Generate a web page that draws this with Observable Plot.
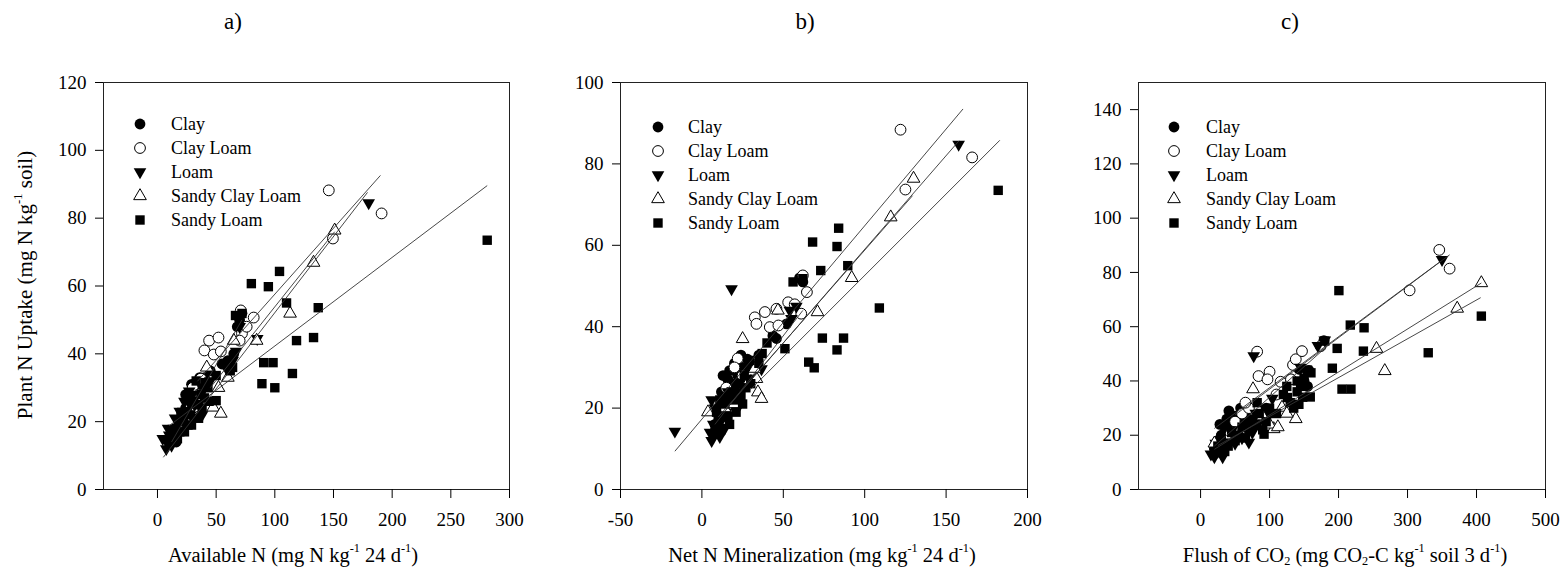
<!DOCTYPE html>
<html>
<head>
<meta charset="utf-8">
<script src="https://cdn.jsdelivr.net/npm/d3@7"></script>
<script src="https://cdn.jsdelivr.net/npm/@observablehq/plot@0.6"></script>
<style>
  body { margin: 0; background: #fff; }
  #wrap { position: relative; width: 1562px; height: 575px; overflow: hidden; background: #fff;
          font-family: "Liberation Serif", "Times New Roman", serif; color: #000; }
  .abs { position: absolute; white-space: nowrap; }
  .ptitle { font-size: 23px; transform: translate(-50%, -50%); }
  .xlab { font-size: 20.5px; transform: translate(-50%, -50%); }
  .ylab { font-size: 21px; transform: translate(-50%, -50%) rotate(-90deg); }
  sup, sub { font-size: 0.6em; line-height: 0; }
  sup { vertical-align: 0.75em; }
  sub { vertical-align: -0.3em; }
  .legrow { font-size: 18px; transform: translateY(-50%); }
</style>
</head>
<body>
<div id="wrap"></div>
<script>
// ---------- categories ----------
const soils = ["Clay", "Clay Loam", "Loam", "Sandy Clay Loam", "Sandy Loam"];
const panelTitles = ["a)", "b)", "c)"];

// ---------- tick labels ----------
const yTicksA = [0, 20, 40, 60, 80, 100, 120];
const yTicksB = [0, 20, 40, 60, 80, 100];
const yTicksC = [0, 20, 40, 60, 80, 100, 120, 140];
const xTicksA = [0, 50, 100, 150, 200, 250, 300];
const xTicksB = [-50, 0, 50, 100, 150, 200];
const xTicksC = [0, 100, 200, 300, 400, 500];

// ---------- panel a: Available N vs Plant N uptake ----------
const clayA = [[12,15],[15,17],[18,19],[20,21],[22,22],[24,24],[26,25],[28,26],[30,27],[32,28],[25,20],[30,23],[35,26],[34,30],[38,31],[40,33],[45,35],[60,38],[65,40],[70,50],[72,52],[68,48],[55,37],[20,18],[16,14],[24,28],[29,31],[36,33]];
const clayLoamA = [[146,88.2],[191,81.4],[149.5,74],[40,41],[44,43.9],[52,44.8],[48,39.8],[54,40.7],[71,52.8],[82,50.7],[72,46],[70,43.9],[37,32.7],[30,30],[28,25],[35,28],[25,22],[33,24],[76,48]];
const loamA = [[180,84.5],[85,44.5],[67,40.7],[7.5,12],[4.5,15],[8,14],[10,16],[12,15],[14,18],[16,17],[18,20],[20,19],[22,23],[25,22],[28,25],[30,24],[33,28],[36,27],[40,30],[45,32],[60,35],[64,38],[70,48],[26,27],[12,13],[9,18],[15,21],[19,23],[23,26],[27,29],[31,21],[38,22]];
const sclA = [[151,76.4],[133,66.9],[113,51.9],[84.5,43.9],[65,43.9],[52,30],[47.5,24.2],[54,22.4],[42,36],[30,22],[25,20],[20,17],[35,27],[15,15],[60,33]];
const slA = [[281,73.5],[80,60.7],[104,64.3],[94.5,59.8],[110,55],[137,53.6],[118.5,43.9],[133,44.8],[90.5,37.4],[98.5,37.4],[115,34.2],[89,31.2],[100,30],[66.5,51.3],[72,51.9],[50,33.6],[50,26.2],[41,31.5],[62,35],[58,37],[10,14],[13,16],[16,18],[19,17],[22,20],[25,23],[28,22],[31,26],[34,25],[37,28],[40,27],[43,30],[20,22],[26,19],[35,21],[38,24],[17,15],[23,17],[29,19],[33,32],[44,26],[64,36]];
// fitted lines: soil, x1, y1, x2, y2
const fitA = [["Clay",12,14,72,50],["Clay Loam",34,31.9,190,92.6],["Loam",5,9.5,179,87.6],["Sandy Clay Loam",45,30,151,76],["Sandy Loam",10,18.8,281,89.6]];

// ---------- panel b: Net N mineralization ----------
const clayB = [[52,40.7],[43.6,37.8],[45.8,37.1],[17,29.2],[10,20],[12,24],[15,22],[18,26],[20,25],[22,28],[25,30],[14,18],[8,16],[28,32],[30,27],[60,52],[62,51],[35,33],[20,31],[16,27],[13,28],[24,33]];
const clayLoamB = [[122,88.4],[166,81.6],[125,73.7],[32.5,42.3],[38.7,43.6],[45.8,44.4],[33.5,40.7],[41.7,39.9],[47,40.3],[53,46],[61,43.2],[64.5,48.5],[62,52.6],[22,32.2],[20,30],[15,25],[25,28],[57,45.5]];
const loamB = [[157.7,84.8],[18.2,49.3],[-16.6,14.3],[54,44],[36.6,29.6],[6,12],[5,14],[7,16],[9,15],[10,18],[12,17],[13,20],[15,19],[17,22],[19,21],[21,24],[24,26],[8,20],[6,22],[28,30],[55,42],[58,45],[11,13],[14,15],[16,24],[22,20]];
const sclB = [[130,76.4],[116,66.9],[92,52],[71,43.6],[25,37],[46.7,44],[3.7,19],[34.4,23.9],[36.6,22.3],[33.5,27.2],[32.5,29.7],[20,21],[14,20],[28,26]];
const slB = [[182,73.5],[68,60.8],[84,64.2],[83,59.7],[89.6,55],[73,53.8],[109,44.6],[74,37.2],[87,37.2],[83,34.3],[65.6,31.3],[69,29.9],[51,34.6],[56,51],[62,51.8],[37,33.4],[29.5,31.7],[8,14],[10,17],[12,15],[14,21],[16,18],[18,24],[20,22],[22,26],[24,23],[26,28],[27,25],[30,26],[11,22],[35,31],[21,19],[9,19],[17,16],[25,21],[40,36]];
const fitB = [["Clay",8,16,62,44],["Clay Loam",15,19.9,158,85.7],["Loam",-16.6,9.4,160.4,93.5],["Sandy Clay Loam",10,17.8,129.4,72.2],["Sandy Loam",30,24.6,183,85.8]];

// ---------- panel c: Flush of CO2 ----------
const clayC = [[41,29],[178.7,54.9],[157,43.9],[20,15],[25,18],[30,20],[35,23],[40,22],[45,25],[50,27],[55,24],[60,26],[65,28],[70,25],[28,24],[33,17],[48,19],[150,40],[155,38],[142.5,44.3],[95,30],[100,28],[38,26],[58,30]];
const clayLoamC = [[346,88.3],[361,81.4],[303,73.4],[82,50.8],[84,41.8],[100,43.4],[97,40.6],[116,39.7],[131,40.6],[134,45.9],[138,48],[147,51],[174,52.8],[60,28],[70,30],[50,25],[65,32],[110,35]];
const loamC = [[350,84.7],[77,49.2],[104,33.6],[70,17.4],[15,13],[20,12],[25,14],[30,16],[35,15],[40,18],[45,20],[55,22],[60,19],[65,24],[75,21],[85,25],[90,27],[50,17],[180,55],[170,53],[145,45],[22,17],[32,12],[80,28]];
const sclC = [[407,76.1],[372,66.7],[255,51.9],[267,43.7],[76,37],[138,26],[118,30.2],[106,22.3],[20,17],[40,20],[55,21],[90,27],[100,24],[112,23],[125,28]];
const slC = [[407,63.9],[330,50.4],[200.5,73.3],[217,60.6],[237,59.6],[236,51],[198,52],[180,54.7],[191,44.7],[205,37],[218,37],[159,34.1],[142.5,31.4],[126,33.9],[92,20.4],[25,16],[30,19],[35,14],[40,16],[45,21],[50,18],[55,20],[60,23],[65,19],[70,22],[75,26],[80,24],[85,28],[90,22],[95,25],[100,30],[110,28],[130,32],[140,36],[145,38],[135,30],[155,44],[160,43],[82,32],[120,35],[150,41],[125,38],[140,40],[148,34]];
const fitC = [["Clay",20,16,180,52],["Clay Loam",50,27.5,361,86.5],["Loam",20,22.5,348,84.1],["Sandy Clay Loam",20,14.8,407,76.1],["Sandy Loam",25,16.2,406,70.7]];

// ---------- symbols ----------
const triangleDown = {
  draw(ctx, size) {
    const y = Math.sqrt(size / (Math.sqrt(3) * 3));
    ctx.moveTo(0, 2 * y);
    ctx.lineTo(-Math.sqrt(3) * y, -y);
    ctx.lineTo(Math.sqrt(3) * y, -y);
    ctx.closePath();
  }
};
const styleBySoil = [
  {symbol: "circle", fill: "black", stroke: "none", r: 5.4},
  {symbol: "circle", fill: "white", stroke: "black", r: 5.4},
  {symbol: triangleDown, fill: "black", stroke: "none", r: 4.7},
  {symbol: "triangle", fill: "white", stroke: "black", r: 4.7},
  {symbol: "square", fill: "black", stroke: "none", r: 5.3}
];

const xLabels = [
  'Available N (mg N kg<sup>-1</sup> 24 d<sup>-1</sup>)',
  'Net N Mineralization (mg kg<sup>-1</sup> 24 d<sup>-1</sup>)',
  'Flush of CO<sub>2</sub> (mg CO<sub>2</sub>-C kg<sup>-1</sup> soil 3 d<sup>-1</sup>)'
];
const yLabel = 'Plant N Uptake (mg N kg<sup>-1</sup> soil)';

const panels = [
  {series: [clayA, clayLoamA, loamA, sclA, slA], fits: fitA, xdom: [-46, 300], ydom: [0, 120], xt: xTicksA, yt: yTicksA,
   frameL: 103, frameR: 509, titleX: 233, xlabX: 293, legSymX: 140, legTxtX: 171, legY: 124},
  {series: [clayB, clayLoamB, loamB, sclB, slB], fits: fitB, xdom: [-50, 200], ydom: [0, 100], xt: xTicksB, yt: yTicksB,
   frameL: 620, frameR: 1027, titleX: 805, xlabX: 822, legSymX: 658, legTxtX: 688, legY: 127},
  {series: [clayC, clayLoamC, loamC, sclC, slC], fits: fitC, xdom: [-90, 500], ydom: [0, 150], xt: xTicksC, yt: yTicksC,
   frameL: 1138, frameR: 1545, titleX: 1290, xlabX: 1345, legSymX: 1174, legTxtX: 1206, legY: 127}
];

const wrap = document.getElementById("wrap");
const TOP = 40, MT = 42, MB = 86, ML = 100, MR = 15, PH = 407;

function addDiv(cls, html, x, y) {
  const d = document.createElement("div");
  d.className = "abs " + cls;
  d.innerHTML = html;
  d.style.left = x + "px";
  d.style.top = y + "px";
  wrap.appendChild(d);
  return d;
}

panels.forEach((p, pi) => {
  const width = (p.frameR - p.frameL) + ML + MR;
  const height = MT + PH + MB;
  const marks = [Plot.frame({stroke: "#222", strokeWidth: 1})];
  p.series.forEach((pts, si) => {
    const s = styleBySoil[si];
    marks.push(Plot.dot(pts, {
      x: d => d[0], y: d => d[1], symbol: s.symbol, r: s.r,
      fill: s.fill, stroke: s.stroke, strokeWidth: 1
    }));
  });
  marks.push(Plot.link(p.fits, {
    x1: d => d[1], y1: d => d[2], x2: d => d[3], y2: d => d[4],
    stroke: "#333", strokeWidth: 0.9
  }));
  marks.push(Plot.axisX(p.xt, {anchor: "bottom", tickSize: 9, tickPadding: 14, label: null, fontSize: 19, stroke: "#000", tickFormat: d => String(d)}));
  marks.push(Plot.axisY(p.yt, {anchor: "left", tickSize: 8, tickPadding: 9, label: null, fontSize: 19, stroke: "#000", tickFormat: d => String(d)}));
  const svg = Plot.plot({
    width, height,
    marginLeft: ML, marginRight: MR, marginTop: MT, marginBottom: MB,
    x: {domain: p.xdom},
    y: {domain: p.ydom},
    style: {fontFamily: '"Liberation Serif", "Times New Roman", serif', fontSize: "19px", color: "#000", background: "transparent", overflow: "visible"},
    marks
  });
  svg.style.position = "absolute";
  svg.style.left = (p.frameL - ML) + "px";
  svg.style.top = TOP + "px";
  wrap.appendChild(svg);

  addDiv("ptitle", panelTitles[pi], p.titleX, 22);
  addDiv("xlab", xLabels[pi], p.xlabX, 555);

  // legend
  soils.forEach((name, si) => {
    const s = styleBySoil[si];
    const y = p.legY + si * 24;
    const ns = "http://www.w3.org/2000/svg";
    const sv = document.createElementNS(ns, "svg");
    sv.setAttribute("width", 16); sv.setAttribute("height", 16);
    sv.style.position = "absolute";
    sv.style.left = (p.legSymX - 8) + "px";
    sv.style.top = (y - 8) + "px";
    sv.style.overflow = "visible";
    const path = document.createElementNS(ns, "path");
    const sym = typeof s.symbol === "string" ? (s.symbol === "circle" ? d3.symbolCircle : s.symbol === "square" ? d3.symbolSquare : d3.symbolTriangle) : s.symbol;
    path.setAttribute("d", d3.symbol(sym, Math.PI * s.r * s.r)());
    path.setAttribute("transform", "translate(8,8)");
    path.setAttribute("fill", s.fill);
    path.setAttribute("stroke", s.stroke);
    sv.appendChild(path);
    wrap.appendChild(sv);
    addDiv("legrow", name, p.legTxtX, y);
  });
});

addDiv("ylab", yLabel, 25, 285);
</script>
</body>
</html>
